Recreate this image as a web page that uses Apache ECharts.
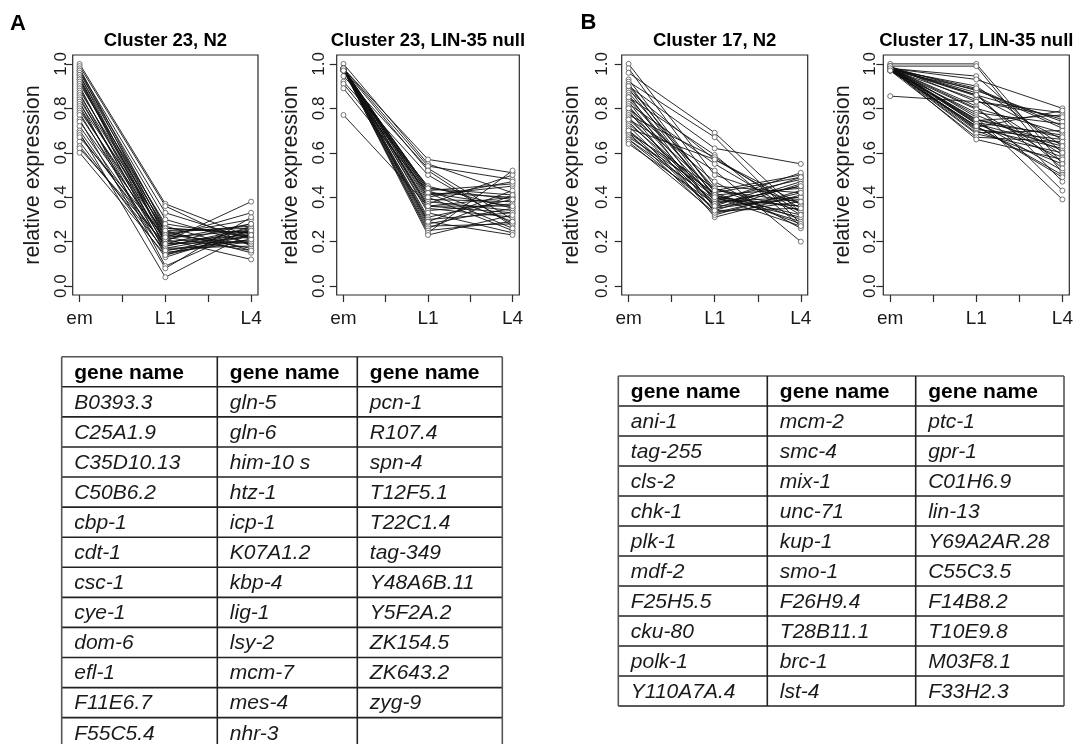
<!DOCTYPE html>
<html>
<head>
<meta charset="utf-8">
<script src="https://cdn.jsdelivr.net/npm/echarts@6/dist/echarts.min.js"></script>
<style>
  html, body { margin: 0; padding: 0; background: #fff; }
  #chart { width: 1077px; height: 744px; }
</style>
</head>
<body>
<div id="chart"></div>
<script>
// ---------------- DATA ----------------
const stageLabels = ['em', 'L1', 'L4'];
const xTickValues = [1, 1.5, 2, 2.5, 3];
const xLabelValues = [1, 2, 3];
const yTickValues = [0, 0.2, 0.4, 0.6, 0.8, 1.0];
const panelTitles = ['Cluster 23, N2', 'Cluster 23, LIN-35 null', 'Cluster 17, N2', 'Cluster 17, LIN-35 null'];
const panelLetters = ['A', 'B'];
const yAxisName = 'relative expression';

// Cluster 23, N2
const c23n2_em = [1.00,0.99,0.98,0.97,0.97,0.96,0.95,0.95,0.94,0.93,0.93,0.92,0.91,0.90,0.89,0.88,0.87,0.86,0.85,0.84,0.83,0.82,0.81,0.80,0.79,0.78,0.77,0.75,0.74,0.72,0.70,0.69,0.68,0.67,0.65,0.63,0.62,0.60];
const c23n2_l1 = [0.37,0.36,0.26,0.33,0.24,0.30,0.22,0.27,0.20,0.25,0.19,0.23,0.28,0.17,0.21,0.26,0.15,0.24,0.18,0.22,0.09,0.25,0.16,0.20,0.23,0.14,0.19,0.08,0.21,0.17,0.15,0.04,0.18,0.22,0.13,0.16,0.19,0.14];
const c23n2_l4 = [0.22,0.18,0.24,0.21,0.27,0.19,0.25,0.16,0.23,0.26,0.20,0.30,0.22,0.18,0.28,0.24,0.21,0.17,0.25,0.33,0.26,0.15,0.23,0.38,0.19,0.27,0.22,0.31,0.12,0.24,0.20,0.24,0.26,0.16,0.25,0.21,0.28,0.23];

// Cluster 23, LIN-35 null
const c23lin_em = [1.00,0.945,0.92,0.91,0.89,0.77,0.98,0.98,0.975,0.975,0.98,0.975,0.97,0.98,0.975,0.98,0.97,0.975,0.98,0.975,0.97,0.98,0.975,0.98,0.97,0.975,0.98,0.975,0.97,0.98,0.975,0.97,0.98,0.975,0.98,0.97];
const c23lin_l1 = [0.55,0.53,0.50,0.45,0.42,0.36,0.57,0.54,0.52,0.44,0.43,0.42,0.41,0.40,0.39,0.38,0.37,0.36,0.35,0.43,0.34,0.33,0.31,0.30,0.29,0.28,0.27,0.26,0.25,0.24,0.23,0.42,0.40,0.36,0.29,0.44];
const c23lin_l4 = [0.42,0.30,0.28,0.35,0.40,0.33,0.51,0.48,0.27,0.41,0.29,0.36,0.45,0.25,0.38,0.34,0.50,0.40,0.31,0.46,0.37,0.24,0.39,0.33,0.43,0.35,0.28,0.41,0.29,0.52,0.32,0.26,0.47,0.36,0.23,0.39];

// Cluster 17, N2
const c17n2_em = [1.00,0.98,0.96,0.93,0.92,0.91,0.90,0.89,0.88,0.87,0.86,0.85,0.84,0.83,0.82,0.81,0.80,0.79,0.78,0.77,0.76,0.75,0.74,0.73,0.72,0.71,0.70,0.69,0.69,0.68,0.67,0.66,0.66,0.65,0.64,0.90,0.85,0.80,0.75,0.70];
const c17n2_l1 = [0.50,0.45,0.69,0.42,0.67,0.40,0.62,0.38,0.57,0.44,0.35,0.59,0.41,0.33,0.55,0.39,0.47,0.31,0.43,0.58,0.37,0.52,0.36,0.41,0.34,0.57,0.40,0.32,0.44,0.38,0.42,0.35,0.39,0.33,0.37,0.43,0.41,0.36,0.40,0.34];
const c17n2_l4 = [0.37,0.42,0.33,0.49,0.28,0.36,0.55,0.40,0.35,0.30,0.47,0.27,0.44,0.38,0.32,0.48,0.26,0.41,0.50,0.33,0.45,0.20,0.39,0.29,0.46,0.37,0.31,0.43,0.34,0.51,0.28,0.40,0.36,0.42,0.45,0.38,0.32,0.49,0.27,0.35];

// Cluster 17, LIN-35 null
const c17lin_em = [1.00,0.99,0.98,0.98,0.975,0.97,0.98,0.985,0.98,0.975,0.99,0.98,0.98,0.975,0.97,0.98,0.99,0.98,0.975,0.98,0.985,0.98,0.97,0.98,0.975,0.99,0.98,0.98,0.975,0.97,0.98,0.985,0.98,0.975,0.99,0.98,0.97,0.855];
const c17lin_l1 = [1.00,0.99,0.945,0.93,0.90,0.885,0.87,0.86,0.855,0.84,0.83,0.81,0.80,0.795,0.78,0.77,0.76,0.75,0.745,0.74,0.735,0.73,0.72,0.715,0.71,0.705,0.70,0.69,0.685,0.67,0.66,0.88,0.86,0.75,0.73,0.89,0.72,0.83];
const c17lin_l4 = [0.55,0.51,0.60,0.80,0.63,0.71,0.47,0.75,0.66,0.59,0.78,0.43,0.69,0.56,0.73,0.61,0.39,0.64,0.77,0.52,0.68,0.58,0.50,0.79,0.62,0.66,0.55,0.70,0.60,0.65,0.57,0.74,0.53,0.67,0.63,0.72,0.49,0.76];

// Gene tables
const tableHeader = 'gene name';
const tableA_col1 = ['B0393.3','C25A1.9','C35D10.13','C50B6.2','cbp-1','cdt-1','csc-1','cye-1','dom-6','efl-1','F11E6.7','F55C5.4'];
const tableA_col2 = ['gln-5','gln-6','him-10 s','htz-1','icp-1','K07A1.2','kbp-4','lig-1','lsy-2','mcm-7','mes-4','nhr-3'];
const tableA_col3 = ['pcn-1','R107.4','spn-4','T12F5.1','T22C1.4','tag-349','Y48A6B.11','Y5F2A.2','ZK154.5','ZK643.2','zyg-9',''];
const tableB_col1 = ['ani-1','tag-255','cls-2','chk-1','plk-1','mdf-2','F25H5.5','cku-80','polk-1','Y110A7A.4'];
const tableB_col2 = ['mcm-2','smc-4','mix-1','unc-71','kup-1','smo-1','F26H9.4','T28B11.1','brc-1','lst-4'];
const tableB_col3 = ['ptc-1','gpr-1','C01H6.9','lin-13','Y69A2AR.28','C55C3.5','F14B8.2','T10E9.8','M03F8.1','F33H2.3'];

// ---------------- LAYOUT / STYLE ----------------
const FONT = '"Liberation Sans", Arial, Helvetica, sans-serif';
const panelData = [
  [c23n2_em, c23n2_l1, c23n2_l4],
  [c23lin_em, c23lin_l1, c23lin_l4],
  [c17n2_em, c17n2_l1, c17n2_l4],
  [c17lin_em, c17lin_l1, c17lin_l4]
];
const panelLayout = [
  { left: 72.7,  width: 185.3, labelMargin: 3,  nameGap: 29 },
  { left: 336.7, width: 182.6, labelMargin: 9,  nameGap: 34.5 },
  { left: 621.7, width: 186,   labelMargin: 11, nameGap: 38.5 },
  { left: 883.3, width: 186,   labelMargin: 4,  nameGap: 29.5 }
];
const GRID_TOP = 55, GRID_H = 240;
const INK = '#1a1a1a';

const grids = panelLayout.map(p => ({
  left: p.left, top: GRID_TOP, width: p.width, height: GRID_H,
  show: true, borderColor: '#2a2a2a', borderWidth: 1.2, backgroundColor: 'transparent'
}));

const xAxes = panelLayout.map((p, i) => ({
  gridIndex: i, type: 'value', min: 0.92, max: 3.08,
  axisLine: { show: false, onZero: false },
  splitLine: { show: false },
  axisTick: { show: true, customValues: xTickValues, length: 7, lineStyle: { color: '#2a2a2a', width: 1.2 } },
  axisLabel: {
    customValues: xLabelValues,
    formatter: v => stageLabels[Math.round(v) - 1],
    fontSize: 19, color: INK, fontFamily: FONT, margin: 14
  }
}));

const yAxes = panelLayout.map((p, i) => ({
  gridIndex: i, type: 'value', min: -0.04, max: 1.04,
  axisLine: { show: false, onZero: false },
  splitLine: { show: false },
  axisTick: { show: true, customValues: yTickValues, length: 7, lineStyle: { color: '#2a2a2a', width: 1.2 } },
  axisLabel: {
    customValues: yTickValues, rotate: 90,
    formatter: v => v.toFixed(1),
    fontSize: 17, color: INK, fontFamily: FONT, margin: p.labelMargin
  },
  name: yAxisName, nameLocation: 'middle', nameRotate: 90, nameGap: p.nameGap,
  nameTextStyle: { fontSize: 21.5, color: INK, fontFamily: FONT }
}));

const series = [];
panelData.forEach((cols, pi) => {
  const [em, l1, l4] = cols;
  for (let g = 0; g < em.length; g++) {
    series.push({
      type: 'line', xAxisIndex: pi, yAxisIndex: pi,
      data: [[1, em[g]], [2, l1[g]], [3, l4[g]]],
      symbol: 'circle', symbolSize: 5,
      itemStyle: { color: '#ffffff', borderColor: '#555', borderWidth: 0.8 },
      lineStyle: { color: '#111', width: 0.9 },
      emphasis: { disabled: true }, silent: true, animation: false
    });
  }
});

// graphic: letters, titles, tables
const graphic = [];
graphic.push({ type: 'text', left: 10, top: 13, style: { text: panelLetters[0], font: 'bold 22px ' + FONT, fill: '#000' } });
graphic.push({ type: 'text', left: 580.5, top: 12, style: { text: panelLetters[1], font: 'bold 22px ' + FONT, fill: '#000' } });
panelLayout.forEach((p, i) => {
  graphic.push({
    type: 'text', x: p.left + p.width / 2, y: 41,
    style: { text: panelTitles[i], font: 'bold 18.5px ' + FONT, fill: '#000', align: 'center', verticalAlign: 'middle' }
  });
});

function addTable(cols, colX, y0, rowH, nRows) {
  const yEnd = y0 + nRows * rowH;
  for (let r = 0; r <= nRows; r++) {
    const y = y0 + r * rowH;
    graphic.push({ type: 'line', shape: { x1: colX[0], y1: y, x2: colX[colX.length - 1], y2: y },
      style: { stroke: (r === 0) ? '#555' : '#222', lineWidth: 1.6 } });
  }
  colX.forEach((x, ci) => {
    graphic.push({ type: 'line', shape: { x1: x, y1: y0, x2: x, y2: yEnd },
      style: { stroke: (ci === 0 || ci === colX.length - 1) ? '#555' : '#222', lineWidth: 1.6 } });
  });
  cols.forEach((col, ci) => {
    graphic.push({ type: 'text', x: colX[ci] + 12.5, y: y0 + rowH / 2 + 1,
      style: { text: tableHeader, font: 'bold 21px ' + FONT, fill: '#000', verticalAlign: 'middle' } });
    col.forEach((name, ri) => {
      if (!name) return;
      graphic.push({ type: 'text', x: colX[ci] + 12.5, y: y0 + (ri + 1) * rowH + rowH / 2 + 1,
        style: { text: name, font: 'italic 21px ' + FONT, fill: INK, verticalAlign: 'middle' } });
    });
  });
}
addTable([tableA_col1, tableA_col2, tableA_col3], [61.7, 217.3, 357.3, 502.3], 356.7, 30.08, tableA_col1.length + 1);
addTable([tableB_col1, tableB_col2, tableB_col3], [618.3, 767.3, 915.7, 1064], 376, 30, tableB_col1.length + 1);

const chart = echarts.init(document.getElementById('chart'), null, { renderer: 'canvas' });
chart.setOption({
  backgroundColor: '#ffffff',
  animation: false,
  grid: grids,
  xAxis: xAxes,
  yAxis: yAxes,
  series: series,
  graphic: graphic
});
</script>
</body>
</html>
